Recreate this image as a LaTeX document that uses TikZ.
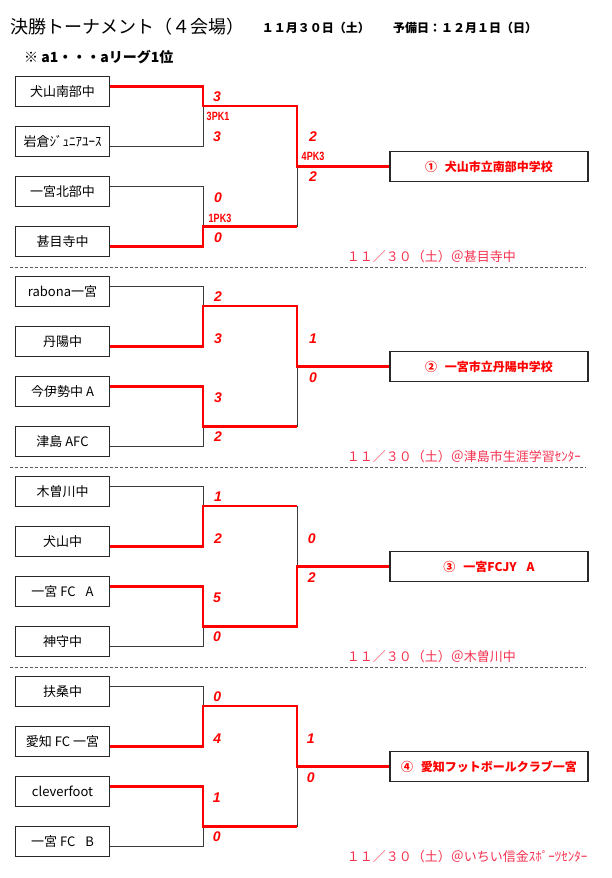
\documentclass[tikz,border=0pt]{standalone}
\usepackage{fontspec}
\setmainfont{Noto Sans CJK JP}
\newfontfamily\scorefont{Liberation Sans}
\definecolor{boxc}{RGB}{40,40,40}
\definecolor{linec}{RGB}{60,60,60}
\definecolor{datec}{RGB}{245,50,80}
\definecolor{sepc}{RGB}{90,90,90}
\begin{document}
\begin{tikzpicture}[x=1pt,y=-1pt,
  team/.style={draw=boxc, line width=1.3pt, minimum width=93.6pt, minimum height=30pt, inner sep=0pt, font=\fontsize{13}{13}\selectfont},
  winbox/.style={draw=boxc, line width=1.3pt, minimum width=198pt, minimum height=30pt, inner sep=0pt, text=red, font=\fontsize{12}{12}\selectfont\bfseries},
  win/.style={draw=red, line width=2.6pt},
  lose/.style={draw=linec, line width=1pt},
  score/.style={text=red, inner sep=0pt, font=\scorefont\fontsize{14}{14}\selectfont\bfseries\itshape},
  pk/.style={text=red, inner sep=0pt, xscale=0.75, font=\scorefont\fontsize{12}{12}\selectfont\bfseries},
  dateline/.style={text=datec, anchor=west, inner sep=0pt, font=\fontsize{13}{13}\selectfont},
  sepline/.style={draw=sepc, line width=0.8pt, dash pattern=on 3pt off 2pt},
  head/.style={anchor=west, inner sep=0pt}]
\useasboundingbox (0,0) rectangle (612,878);
\fill[white] (0,0) rectangle (612,878);
% header
\node[head, font=\fontsize{18}{18}\selectfont] (title) at (10,27) {決勝トーナメント（４会場）};
\node[head, font=\fontsize{12}{12}\selectfont\bfseries] (hdate1) at (261.7,28.3) {１１月３０日（土）};
\node[head, font=\fontsize{12}{12}\selectfont\bfseries] (hdate2) at (393,28.3) {予備日：１２月１日（日）};
\node[head, font=\fontsize{14}{14}\selectfont\bfseries] (note) at (24,56.7) {※ a1・・・aリーグ1位};

% ===== section 1 =====
\node[team] (a1) at (62.5,91.7) {犬山南部中};
\node[team] (a2) at (62.5,141.7) {岩倉ｼﾞｭﾆｱﾕｰｽ};
\node[team] (a3) at (62.5,191.7) {一宮北部中};
\node[team] (a4) at (62.5,241.7) {甚目寺中};
\coordinate (aA) at (203,106);
\coordinate (aB) at (203,226.7);
\coordinate (aF) at (297,166.7);
\node[winbox] (aW) at (489,166.7) {①\hspace{8pt}犬山市立南部中学校};
\draw[lose] ([yshift=-5pt]a2.east) -| (aA);
\draw[lose] ([yshift=5pt]a3.east) -| (aB);
\draw[lose] (aB -| aF) -- (aF);
\draw[win] ([yshift=5.4pt]a1.east) -| (aA) -| (aF) -- (aW.west);
\draw[win] ([yshift=-5pt]a4.east) -| (aB) -- (aB -| aF);
\node[score] (aS1) at (217,96.7) {3};
\node[pk] (aP1) at (218,116.7) {3PK1};
\node[score] (aS2) at (217,136.7) {3};
\node[score] (aS3) at (218,198) {0};
\node[pk] (aP2) at (220,218.5) {1PK3};
\node[score] (aS4) at (218,238) {0};
\node[score] (aS5) at (313,136.7) {2};
\node[pk] (aP3) at (313,156.7) {4PK3};
\node[score] (aS6) at (313,176.7) {2};
\node[dateline] (aD) at (346.7,256.7) {１１／３０（土）＠甚目寺中};
\coordinate (aL1) at (10,267);
\coordinate (aL2) at (586,267);
\draw[sepline] (aL1) -- (aL2);

% ===== section 2 =====
\begin{scope}[shift={(0,200)}]
\node[team] (b1) at (62.5,91.7) {rabona一宮};
\node[team] (b2) at (62.5,141.7) {丹陽中};
\node[team] (b3) at (62.5,191.7) {今伊勢中 A};
\node[team] (b4) at (62.5,241.7) {津島 AFC};
\coordinate (bA) at (203,106);
\coordinate (bB) at (203,226.7);
\coordinate (bF) at (297,166.7);
\node[winbox] (bW) at (489,166.7) {②\hspace{8pt}一宮市立丹陽中学校};
\draw[lose] ([yshift=5.4pt]b1.east) -| (bA);
\draw[lose] ([yshift=-5pt]b4.east) -| (bB);
\draw[lose] (bB -| bF) -- (bF);
\draw[win] ([yshift=-5pt]b2.east) -| (bA) -| (bF) -- (bW.west);
\draw[win] ([yshift=5pt]b3.east) -| (bB) -- (bB -| bF);
\node[score] (bS1) at (218,96.7) {2};
\node[score] (bS2) at (218,138.3) {3};
\node[score] (bS3) at (218,197.7) {3};
\node[score] (bS4) at (218,236.7) {2};
\node[score] (bS5) at (313,138.3) {1};
\node[score] (bS6) at (313,177.3) {0};
\node[dateline] (bD) at (346.7,256.7) {１１／３０（土）＠津島市生涯学習ｾﾝﾀｰ};
\coordinate (bL1) at (10,267);
\coordinate (bL2) at (586,267);
\draw[sepline] (bL1) -- (bL2);
\end{scope}

% ===== section 3 =====
\begin{scope}[shift={(0,400)}]
\node[team] (c1) at (62.5,91.7) {木曽川中};
\node[team] (c2) at (62.5,141.7) {犬山中};
\node[team] (c3) at (62.5,191.7) {一宮 FC\hspace{10pt}A};
\node[team] (c4) at (62.5,241.7) {神守中};
\coordinate (cA) at (203,106);
\coordinate (cB) at (203,226.7);
\coordinate (cF) at (297,166.7);
\node[winbox] (cW) at (489,166.7) {③\hspace{8pt}一宮FCJY\hspace{10pt}A};
\draw[lose] ([yshift=5.4pt]c1.east) -| (cA);
\draw[lose] ([yshift=-5pt]c4.east) -| (cB);
\draw[lose] (cA -| cF) -- (cF);
\draw[win] ([yshift=-5pt]c2.east) -| (cA) -- (cA -| cF);
\draw[win] ([yshift=5pt]c3.east) -| (cB) -| (cF) -- (cW.west);
\node[score] (cS1) at (218,96.7) {1};
\node[score] (cS2) at (218,138.3) {2};
\node[score] (cS3) at (217,197.7) {5};
\node[score] (cS4) at (217,236.7) {0};
\node[score] (cS5) at (311.7,138.3) {0};
\node[score] (cS6) at (311.7,177.3) {2};
\node[dateline] (cD) at (346.7,256.7) {１１／３０（土）＠木曽川中};
\coordinate (cL1) at (10,267);
\coordinate (cL2) at (586,267);
\draw[sepline] (cL1) -- (cL2);
\end{scope}

% ===== section 4 =====
\begin{scope}[shift={(0,600)}]
\node[team] (d1) at (62.5,91.7) {扶桑中};
\node[team] (d2) at (62.5,141.7) {愛知 FC 一宮};
\node[team] (d3) at (62.5,191.7) {cleverfoot};
\node[team] (d4) at (62.5,241.7) {一宮 FC\hspace{10pt}B};
\coordinate (dA) at (203,106);
\coordinate (dB) at (203,226.7);
\coordinate (dF) at (297,166.7);
\node[winbox] (dW) at (489,166.7) {④\hspace{8pt}愛知フットボールクラブ一宮};
\draw[lose] ([yshift=5.4pt]d1.east) -| (dA);
\draw[lose] ([yshift=-5pt]d4.east) -| (dB);
\draw[lose] (dB -| dF) -- (dF);
\draw[win] ([yshift=-5pt]d2.east) -| (dA) -| (dF) -- (dW.west);
\draw[win] ([yshift=5pt]d3.east) -| (dB) -- (dB -| dF);
\node[score] (dS1) at (217.3,96.7) {0};
\node[score] (dS2) at (217.3,138.3) {4};
\node[score] (dS3) at (216.7,197.7) {1};
\node[score] (dS4) at (216.7,236.7) {0};
\node[score] (dS5) at (310.7,138.3) {1};
\node[score] (dS6) at (310.7,177.3) {0};
\node[dateline] (dD) at (346.7,256.7) {１１／３０（土）＠いちい信金ｽﾎﾟｰﾂｾﾝﾀｰ};
\end{scope}
\end{tikzpicture}
\end{document}
